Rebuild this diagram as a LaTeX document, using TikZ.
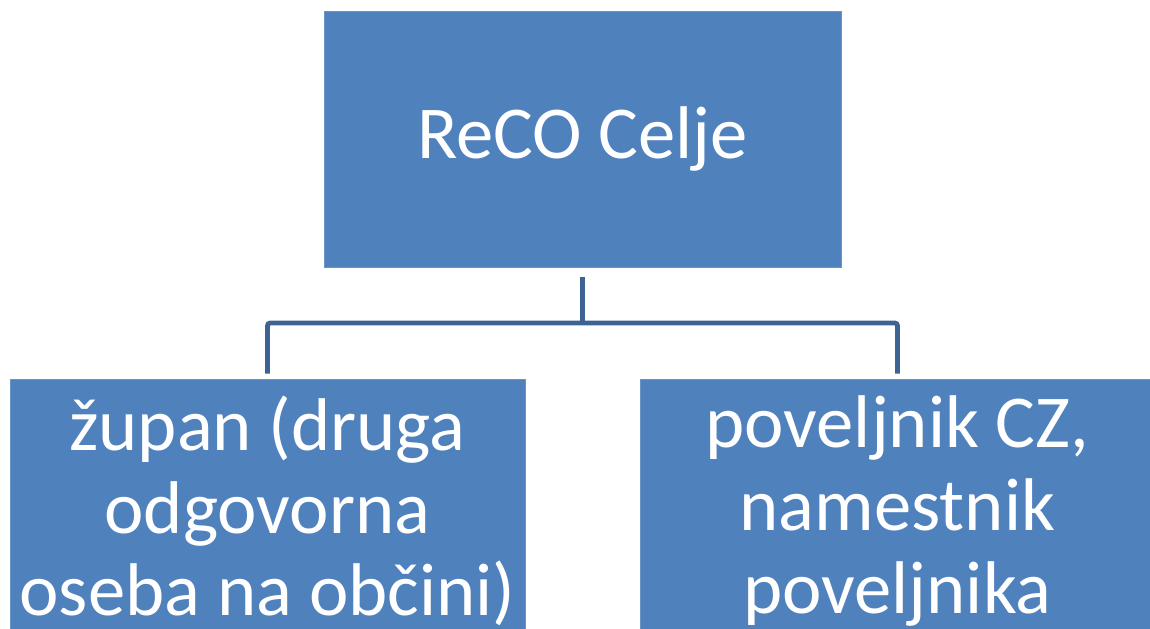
\documentclass[tikz,border=0pt]{standalone}
\usepackage{fontspec}
\setmainfont{Carlito}
\usepackage{tikz}
\usetikzlibrary{calc}
\definecolor{recoblue}{RGB}{79,129,189}
\definecolor{lineblue}{RGB}{61,99,146}

\tikzset{
    orgbox/.style={rectangle, fill=recoblue, draw=recoblue!85!white, text=white, align=center, inner sep=0pt, font=\fontsize{42.5}{47}\selectfont},
    orgline/.style={draw=lineblue, line width=2.7pt, rounded corners=1.5pt}
}

\begin{document}
\begin{tikzpicture}[x=0.02cm, y=-0.02cm]
    \path[use as bounding box, clip] (0,0) rectangle (1150,629);
    \node[orgbox, minimum width=10.34cm, minimum height=5.12cm] (reco) at (582.5,139) {ReCO Celje};
    \node[orgbox, minimum width=10.3cm, minimum height=5.28cm] (zupan) at (267.5,511) {župan (druga\\odgovorna\\oseba na občini)};
    \node[orgbox, minimum width=10.3cm, minimum height=5.28cm] (poveljnik) at (897.5,511) {poveljnik CZ,\\namestnik\\poveljnika};
    \coordinate (fork) at (582.5,323);
    \draw[orgline] ([yshift=-0.2cm]reco.south) -- (fork);
    \draw[orgline] ([yshift=0.1cm]zupan.north) |- (fork) -| ([yshift=0.1cm]poveljnik.north);
\end{tikzpicture}
\end{document}
